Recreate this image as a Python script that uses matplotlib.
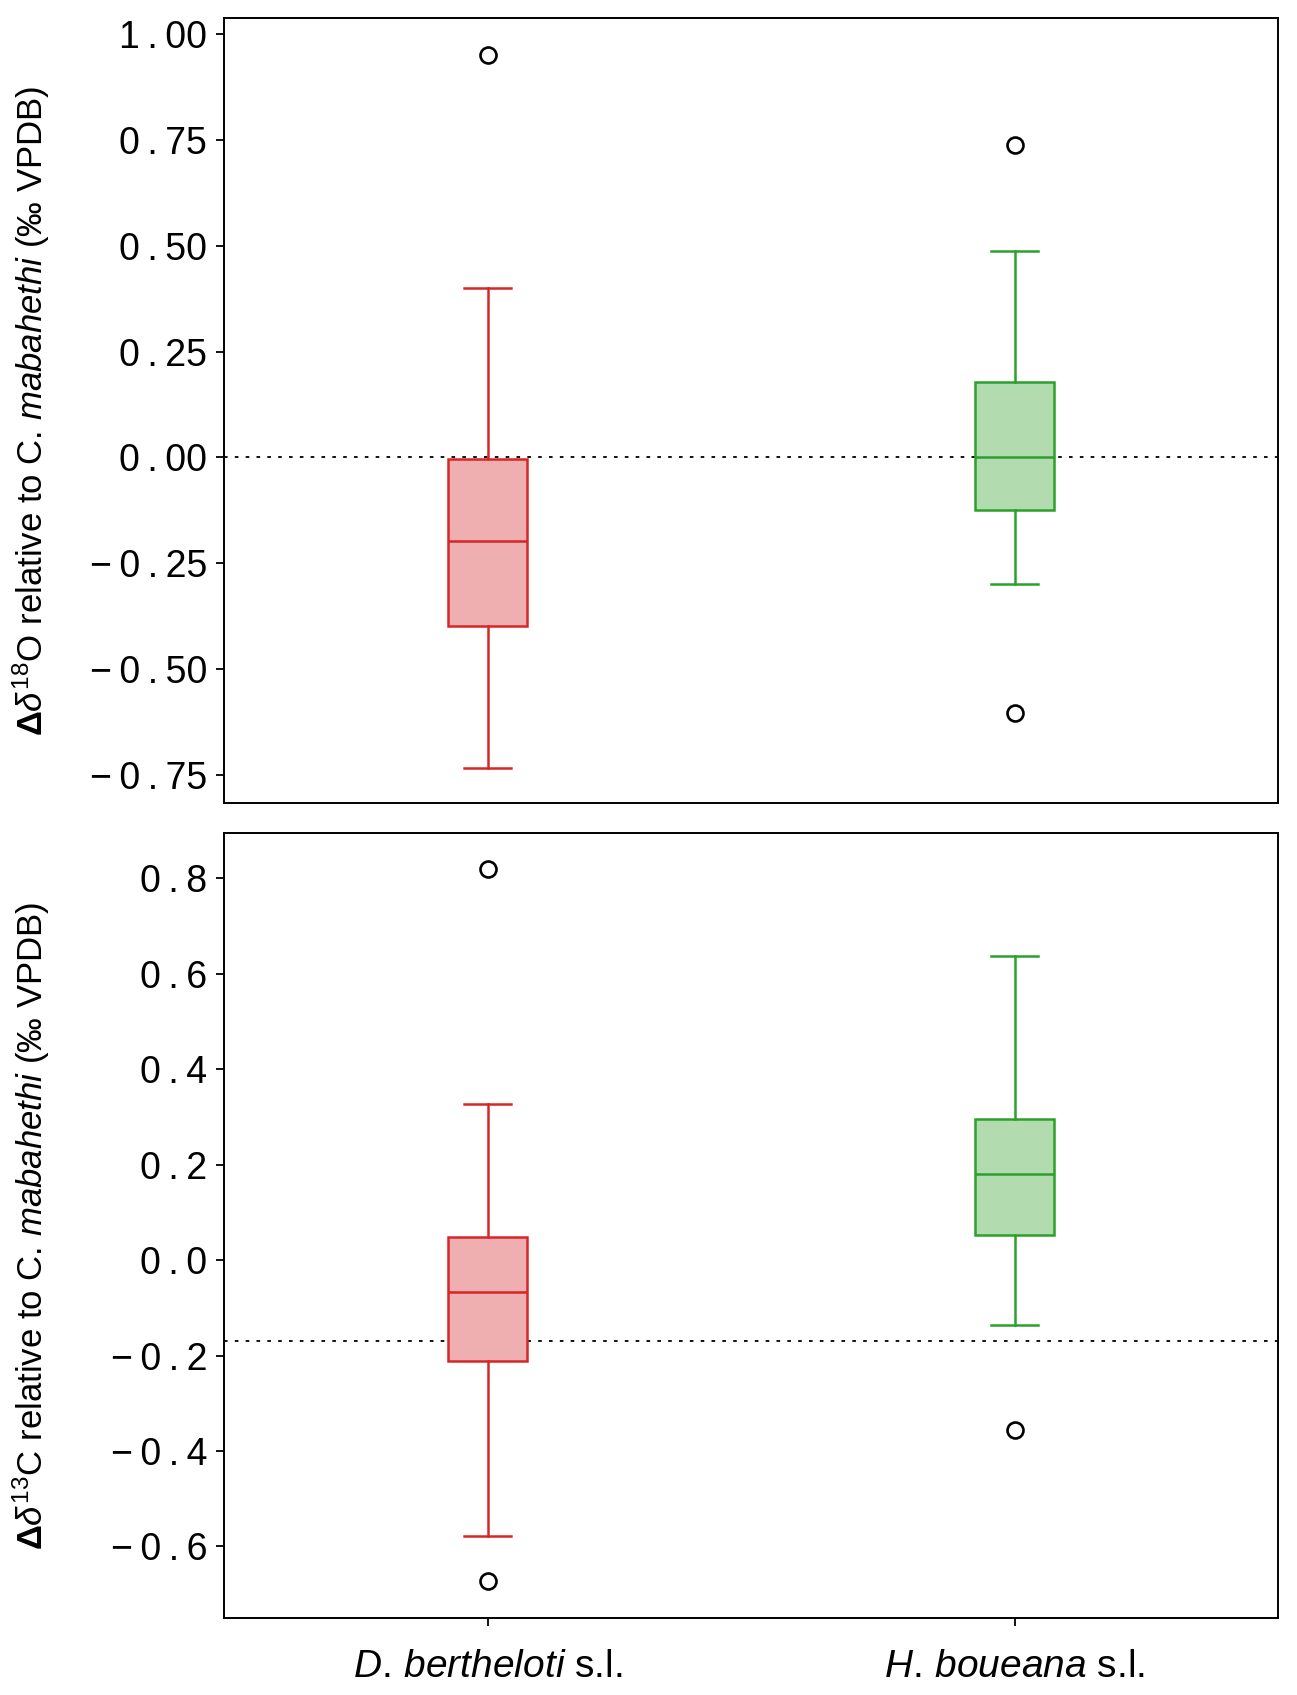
import matplotlib
matplotlib.use("Agg")
import matplotlib.pyplot as plt

plt.rcParams['font.family'] = ['Liberation Sans', 'DejaVu Sans']
plt.rcParams['mathtext.fontset'] = 'custom'
plt.rcParams['mathtext.rm'] = 'Liberation Sans'
plt.rcParams['mathtext.it'] = 'Liberation Sans:italic'
plt.rcParams['mathtext.bf'] = 'Liberation Sans:bold'

# Data (box statistics)
groups = [r"$\it{D.\,bertheloti}$ s.l.", r"$\it{H.\,boueana}$ s.l."]
edge_colors = ["#d62728", "#2ca02c"]
fill_colors = ["#efafb0", "#b2dcb0"]

# oxygen panel
o_whislo = [-0.733, -0.299]
o_q1 = [-0.399, -0.123]
o_med = [-0.197, 0.0]
o_q3 = [-0.003, 0.179]
o_whishi = [0.400, 0.488]
o_fliers = [[0.951], [0.737, -0.603]]
o_ref = 0.0
o_ticks = [-0.75, -0.5, -0.25, 0.0, 0.25, 0.5, 0.75, 1.0]

# carbon panel
c_whislo = [-0.578, -0.136]
c_q1 = [-0.211, 0.052]
c_med = [-0.066, 0.181]
c_q3 = [0.048, 0.295]
c_whishi = [0.328, 0.637]
c_fliers = [[0.82, -0.673], [-0.356]]
c_ref = -0.170
c_ticks = [-0.6, -0.4, -0.2, 0.0, 0.2, 0.4, 0.6, 0.8]

TS = "\u2009"


def spaced(v, nd):
    s = f"{abs(v):.{nd}f}"
    body = s.replace(".", TS + "." + TS)
    if v < 0:
        return "\u2212" + TS + body
    return body


fig = plt.figure(figsize=(12.97, 16.95), dpi=100)
ax1 = fig.add_axes([0.1727, 0.5263, 0.8127, 0.4631])
ax2 = fig.add_axes([0.1727, 0.0454, 0.8127, 0.4631])


def draw(ax, wl, q1, med, q3, wh, fl, ref):
    for i in range(2):
        st = [dict(whislo=wl[i], q1=q1[i], med=med[i], q3=q3[i], whishi=wh[i], fliers=fl[i])]
        c = edge_colors[i]
        ax.bxp(st, positions=[i], widths=0.15, patch_artist=True, showfliers=True,
               boxprops=dict(facecolor=fill_colors[i], edgecolor=c, linewidth=1.8),
               medianprops=dict(color=c, linewidth=1.8),
               whiskerprops=dict(color=c, linewidth=1.8),
               capprops=dict(color=c, linewidth=1.8),
               flierprops=dict(marker='o', markerfacecolor='none', markeredgecolor='black',
                               markersize=11.5, markeredgewidth=1.9),
               capwidths=0.088, zorder=3)
    ax.axhline(ref, color='black', linestyle=(0, (2, 4)), linewidth=1.3, zorder=1)
    ax.set_xlim(-0.5, 1.5)
    for s in ax.spines.values():
        s.set_linewidth(1.4)
    ax.tick_params(axis='y', labelsize=27, length=6, width=1.3, pad=6)
    ax.tick_params(axis='x', length=6, width=1.3)


draw(ax1, o_whislo, o_q1, o_med, o_q3, o_whishi, o_fliers, o_ref)
draw(ax2, c_whislo, c_q1, c_med, c_q3, c_whishi, c_fliers, c_ref)

ax1.set_ylim(-0.816, 1.038)
ax1.set_yticks(o_ticks)
ax1.set_yticklabels([spaced(v, 2) for v in o_ticks])
ax1.set_xticks([])

ax2.set_ylim(-0.75, 0.895)
ax2.set_yticks(c_ticks)
ax2.set_yticklabels([spaced(v, 1) for v in c_ticks])
ax2.set_xticks([0, 1])
ax2.set_xticklabels(groups)
ax2.tick_params(axis='x', pad=16, labelsize=28)

ax1.set_ylabel(r"$\mathbf{\Delta}\delta^{18}$O relative to C. $\it{mabahethi}$ (‰ VPDB)", fontsize=25)
ax2.set_ylabel(r"$\mathbf{\Delta}\delta^{13}$C relative to C. $\it{mabahethi}$ (‰ VPDB)", fontsize=25)
ax1.yaxis.set_label_coords(-0.163, 0.5)
ax2.yaxis.set_label_coords(-0.163, 0.5)

fig.savefig("out.png", dpi=100)
